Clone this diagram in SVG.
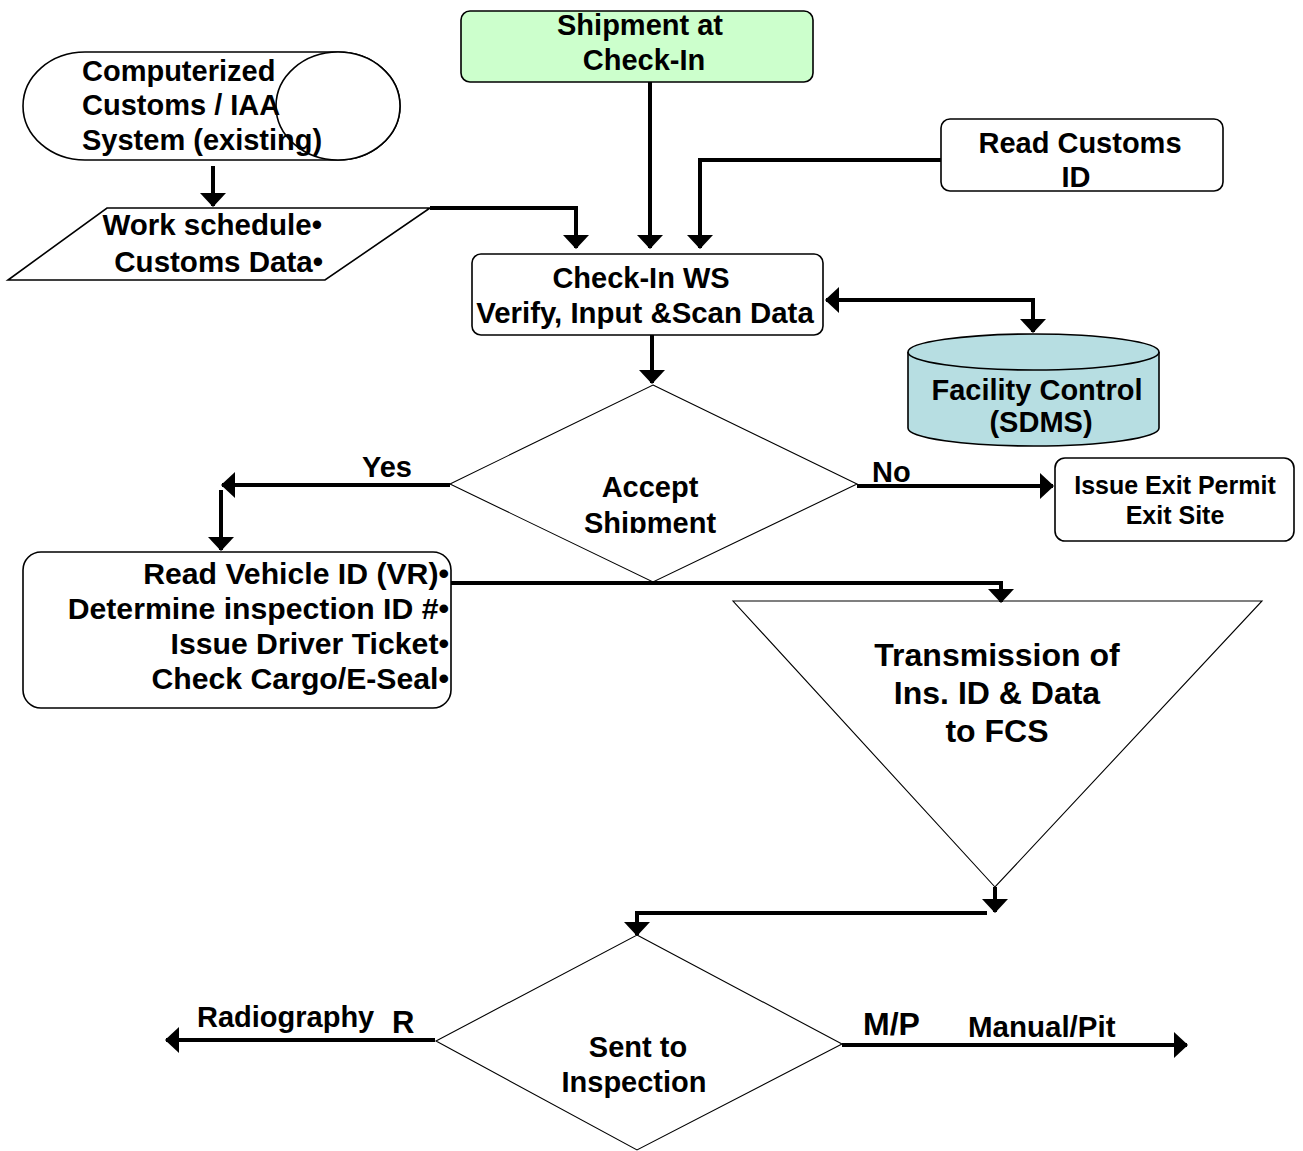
<svg xmlns="http://www.w3.org/2000/svg" width="1303" height="1151" viewBox="0 0 1303 1151">
<style>
text{font-family:"Liberation Sans",Arial,Helvetica,sans-serif;font-weight:bold;fill:#000;font-size:29px}
.m{text-anchor:middle}
.e{text-anchor:end}
.box{fill:#fff;stroke:#000;stroke-width:1.6}
.thin{fill:#fff;stroke:#000;stroke-width:1.1}
.con{fill:none;stroke:#000;stroke-width:4}
.arr{marker-end:url(#ah)}
</style>
<defs>
<marker id="ah" viewBox="0 0 14 26" refX="13" refY="13" markerWidth="14" markerHeight="26" markerUnits="userSpaceOnUse" orient="auto-start-reverse">
<path d="M0,0 L14,13 L0,26 Z" fill="#000"/>
</marker>
<clipPath id="clipAccept"><rect x="450" y="385" width="410" height="148"/></clipPath>
</defs>
<rect width="1303" height="1151" fill="#fff"/>

<g id="computerized">
<path class="box" d="M85,52 H338 A62,54 0 0 1 338,160 H85 A62,54 0 0 1 85,52 Z"/>
<ellipse class="box" cx="338" cy="106" rx="62" ry="54" fill="none"/>
<text x="82" y="81">Computerized</text>
<text x="82" y="115">Customs / IAA</text>
<text x="82" y="150">System (existing)</text>
</g>

<g id="workschedule">
<polygon class="box" points="107,208 430,208 325,280 8,280"/>
<text class="e" x="322" y="235" style="font-size:29.5px">Work schedule•</text>
<text class="e" x="323" y="272" style="font-size:29.5px">Customs Data•</text>
</g>

<g id="shipment">
<rect x="461" y="11" width="352" height="71" rx="9" fill="#ccffcc" stroke="#000" stroke-width="1.6"/>
<text class="m" x="640" y="35">Shipment at</text>
<text class="m" x="644" y="70">Check-In</text>
</g>

<g id="readcustoms">
<rect class="box" x="941" y="119" width="282" height="72" rx="9"/>
<text class="m" x="1080" y="153">Read Customs</text>
<text class="m" x="1076" y="187">ID</text>
</g>

<g id="checkin">
<rect class="box" x="472" y="254" width="351" height="81" rx="9"/>
<text class="m" x="641" y="288">Check-In WS</text>
<text class="m" x="645" y="323" style="font-size:29.4px">Verify, Input &amp;Scan Data</text>
</g>

<g id="facility">
<path d="M908,352 V428 A125.5,18 0 0 0 1159,428 V352" fill="#b7dee2" stroke="#000" stroke-width="1.6"/>
<ellipse cx="1033.5" cy="352" rx="125.5" ry="18" fill="#b7dee2" stroke="#000" stroke-width="1.6"/>
<text class="m" x="1037" y="400">Facility Control</text>
<text class="m" x="1041" y="432">(SDMS)</text>
</g>

<g id="accept">
<polygon class="thin" points="653,385 857,484 653,582 450,484"/>
<g clip-path="url(#clipAccept)">
<text class="m" x="650" y="497">Accept</text>
<text class="m" x="650" y="533">Shipment</text>
</g>
</g>

<g id="exitpermit">
<rect class="box" x="1055" y="458" width="239" height="83" rx="10"/>
<text class="m" x="1175" y="494" style="font-size:25px">Issue Exit Permit</text>
<text class="m" x="1175" y="524" style="font-size:25px">Exit Site</text>
</g>

<g id="vehicle">
<rect class="box" x="23" y="552" width="428" height="156" rx="18"/>
<text class="e" x="449" y="584" style="font-size:30.2px">Read Vehicle ID (VR)•</text>
<text class="e" x="449" y="619" style="font-size:30.2px">Determine inspection ID #•</text>
<text class="e" x="449" y="654" style="font-size:30.2px">Issue Driver Ticket•</text>
<text class="e" x="449" y="689" style="font-size:30.2px">Check Cargo/E-Seal•</text>
</g>

<g id="transmission">
<polygon class="thin" points="733,601 1262,601 995,887"/>
<text class="m" x="997" y="666" style="font-size:32px">Transmission of</text>
<text class="m" x="997" y="704" style="font-size:32px">Ins. ID &amp; Data</text>
<text class="m" x="997" y="742" style="font-size:32px">to FCS</text>
</g>

<g id="inspection">
<polygon class="thin" points="637,935 842,1044 637,1150 436,1041"/>
<text class="m" x="638" y="1057">Sent to</text>
<text class="m" x="634" y="1092">Inspection</text>
</g>

<g id="connectors">
<path class="con arr" d="M213,166 V206"/>
<path class="con arr" d="M430,208 H576 V248"/>
<path class="con arr" d="M650,82 V248"/>
<path class="con arr" d="M941,160 H700 V248"/>
<path class="con arr" d="M826,300 H1033 V332" style="marker-start:url(#ah)"/>
<path class="con arr" d="M652,335 V383"/>
<path class="con arr" d="M450,485 H222"/>
<path class="con arr" d="M221,490 V550"/>
<path class="con arr" d="M857,486 H1053"/>
<path class="con arr" d="M451,583 H1001 V602"/>
<path class="con arr" d="M995,887 V912"/>
<path class="con arr" d="M987,913 H637 V935"/>
<path class="con arr" d="M435,1040 H166"/>
<path class="con arr" d="M842,1045 H1187"/>
</g>

<g id="labels">
<text x="362" y="477">Yes</text>
<text x="872" y="482">No</text>
<text x="197" y="1027">Radiography</text>
<text x="392" y="1033" style="font-size:31px">R</text>
<text x="863" y="1035" style="font-size:32px">M/P</text>
<text x="968" y="1037" style="font-size:29.5px">Manual/Pit</text>
</g>
</svg>
